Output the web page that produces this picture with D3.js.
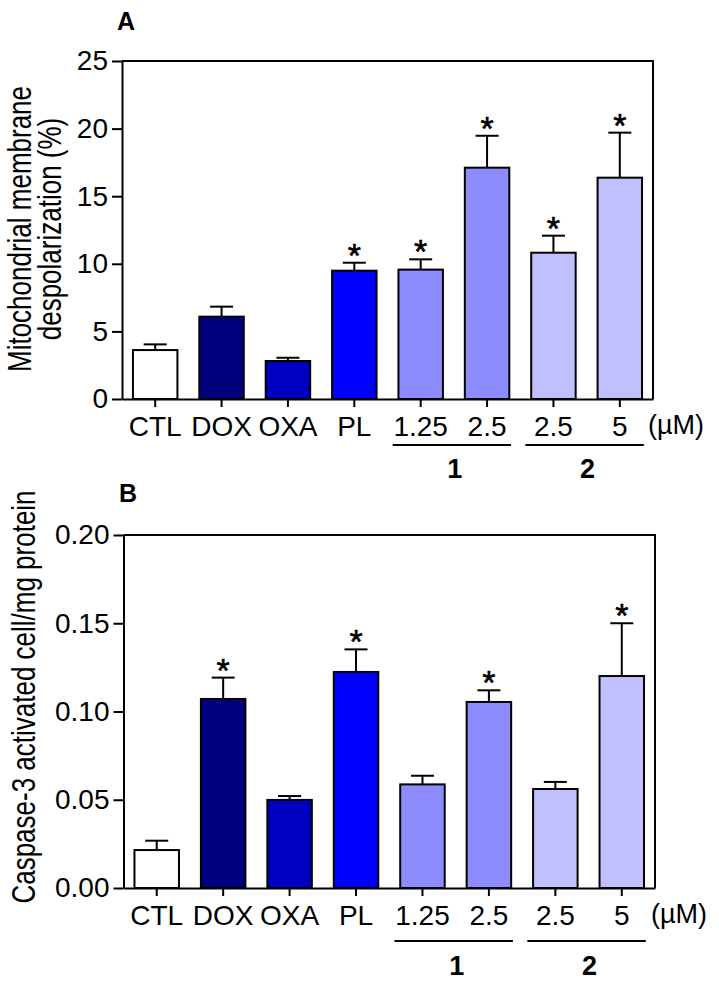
<!DOCTYPE html>
<html lang="en">
<head>
  <meta charset="UTF-8">
  <title>Mitochondrial depolarization and caspase-3 activation</title>
  <script src="https://d3js.org/d3.v7.min.js"></script>
  <style>
    body { margin: 0; background: #fff; }
    svg { font-family: 'Liberation Sans', Arial, sans-serif; }
  </style>
</head>
<body>
<script>
  // categories (ids are unique, labels are what is printed under the ticks)
  const categoryIds = ['CTL', 'DOX', 'OXA', 'PL', 'c1-1.25', 'c1-2.5', 'c2-2.5', 'c2-5'];
  const categoryLabels = ['CTL', 'DOX', 'OXA', 'PL', '1.25', '2.5', '2.5', '5'];

  // compound groups under the concentration labels
  const groupNames = ['1', '2'];
  const groupMembers = [['c1-1.25', 'c1-2.5'], ['c2-2.5', 'c2-5']];

  // panel A - mitochondrial membrane depolarization (%)
  const depolMean = [3.62, 6.09, 2.81, 9.49, 9.57, 17.11, 10.82, 16.37];
  const depolErr  = [0.42, 0.74, 0.24, 0.59, 0.76, 2.36, 1.26, 3.33];
  const depolSig  = [false, false, false, true, true, true, true, true];
  const depolTicks = [0, 5, 10, 15, 20, 25];

  // panel B - caspase-3 activated cell/mg protein
  const caspMean = [0.0215, 0.1071, 0.0499, 0.1224, 0.0587, 0.1054, 0.0561, 0.1201];
  const caspErr  = [0.0053, 0.0121, 0.0022, 0.0128, 0.0049, 0.0066, 0.0040, 0.0299];
  const caspSig  = [false, true, false, true, false, true, false, true];
  const caspTicks = [0, 0.05, 0.10, 0.15, 0.20];

  const barColors = ['#ffffff', '#00007f', '#0000c0', '#0000ff', '#8c8cff', '#8c8cff', '#c0c0ff', '#c0c0ff'];

  const svg = d3.select('body').append('svg')
    .attr('width', 719)
    .attr('height', 987);

  function drawPanel(p) {
    const g = svg.append('g');

    const x = d3.scaleBand()
      .domain(categoryIds)
      .range([p.left, p.right])
      .paddingInner(0.33)
      .paddingOuter(0.165);

    const y = d3.scaleLinear()
      .domain([0, p.max])
      .range([p.bottom, p.top]);

    // frame: top and right sides
    g.append('path')
      .attr('d', `M${p.left},${p.top}H${p.right}V${p.bottom}`)
      .attr('fill', 'none')
      .attr('stroke', '#000')
      .attr('stroke-width', 2);

    // y axis
    const yAxis = g.append('g')
      .attr('transform', `translate(${p.left},0)`)
      .call(d3.axisLeft(y).tickValues(p.ticks).tickSize(10).tickSizeOuter(0)
        .tickPadding(4).tickFormat(p.fmt));
    yAxis.selectAll('path, line').attr('stroke', '#000').attr('stroke-width', 2);
    yAxis.selectAll('text')
      .attr('font-size', 28)
      .attr('font-family', "'Liberation Sans', Arial, sans-serif")
      .attr('fill', '#000');

    const rows = categoryIds.map((id, i) => ({
      id: id, mean: p.mean[i], err: p.err[i], sig: p.sig[i], color: barColors[i]
    }));
    const cx = d => x(d.id) + x.bandwidth() / 2;

    // error bars (upper half only, as in the original)
    const cap = 11.5;
    const eb = g.append('g');
    eb.selectAll('line.stem')
      .data(rows).enter().append('line')
      .attr('class', 'stem')
      .attr('x1', cx).attr('x2', cx)
      .attr('y1', d => y(d.mean))
      .attr('y2', d => y(d.mean + d.err))
      .attr('stroke', '#000').attr('stroke-width', 2);
    eb.selectAll('line.cap')
      .data(rows).enter().append('line')
      .attr('class', 'cap')
      .attr('x1', d => cx(d) - cap)
      .attr('x2', d => cx(d) + cap)
      .attr('y1', d => y(d.mean + d.err))
      .attr('y2', d => y(d.mean + d.err))
      .attr('stroke', '#000').attr('stroke-width', 2);

    // bars
    g.selectAll('rect.bar')
      .data(rows).enter().append('rect')
      .attr('class', 'bar')
      .attr('x', d => x(d.id))
      .attr('width', x.bandwidth())
      .attr('y', d => y(d.mean))
      .attr('height', d => y(0) - y(d.mean))
      .attr('fill', d => d.color)
      .attr('stroke', '#000')
      .attr('stroke-width', 2);

    // significance stars
    g.selectAll('text.star')
      .data(rows.filter(d => d.sig)).enter().append('text')
      .attr('class', 'star')
      .attr('x', cx)
      .attr('y', d => y(d.mean + d.err) + 4)
      .attr('text-anchor', 'middle')
      .attr('font-size', 34)
      .attr('stroke', '#000')
      .attr('stroke-width', 0.6)
      .text('*');

    // x axis
    const xAxis = g.append('g')
      .attr('transform', `translate(0,${p.bottom})`)
      .call(d3.axisBottom(x).tickSize(8).tickSizeOuter(0)
        .tickFormat(id => categoryLabels[categoryIds.indexOf(id)]));
    xAxis.selectAll('path, line').attr('stroke', '#000').attr('stroke-width', 2);
    xAxis.selectAll('text')
      .attr('y', 37).attr('dy', 0)
      .attr('font-size', 28)
      .attr('font-family', "'Liberation Sans', Arial, sans-serif")
      .attr('fill', '#000');

    g.append('text')
      .attr('x', p.umX)
      .attr('y', p.bottom + 35)
      .attr('font-size', 27)
      .text('(\u00b5M)');

    // compound group underlines
    groupMembers.forEach((m, i) => {
      const x0 = x(m[0]) + x.bandwidth() / 2 - 28;
      const x1 = x(m[m.length - 1]) + x.bandwidth() / 2 + 24;
      g.append('line')
        .attr('x1', x0).attr('x2', x1)
        .attr('y1', p.bottom + p.lineDy).attr('y2', p.bottom + p.lineDy)
        .attr('stroke', '#000').attr('stroke-width', 2);
      g.append('text')
        .attr('x', (x0 + x1) / 2 + 3)
        .attr('y', p.bottom + p.groupDy)
        .attr('text-anchor', 'middle')
        .attr('font-size', 27)
        .attr('font-weight', 'bold')
        .text(groupNames[i]);
    });

    // y axis title (glyphs are a bit taller than wide in the original)
    const title = g.append('text')
      .attr('transform', `translate(${p.titleX},${p.titleY}) rotate(-90) scale(1,1.3)`)
      .attr('text-anchor', 'middle')
      .attr('font-size', 26);
    p.title.forEach((line, i) => {
      title.append('tspan')
        .attr('x', 0)
        .attr('dy', i === 0 ? 0 : 23)
        .text(line);
    });

    // panel letter
    g.append('text')
      .attr('x', p.letterX)
      .attr('y', p.letterY)
      .attr('font-size', 25)
      .attr('font-weight', 'bold')
      .text(p.letter);
  }

  drawPanel({
    letter: 'A', letterX: 117, letterY: 30,
    left: 122, right: 653, top: 61, bottom: 399, max: 25,
    mean: depolMean, err: depolErr, sig: depolSig, ticks: depolTicks,
    fmt: d3.format('d'),
    title: ['Mitochondrial membrane', 'despolarization (%)'],
    titleX: 31, titleY: 229,
    umX: 648, lineDy: 46, groupDy: 79
  });

  drawPanel({
    letter: 'B', letterX: 119, letterY: 502,
    left: 123.5, right: 655, top: 535, bottom: 888, max: 0.20,
    mean: caspMean, err: caspErr, sig: caspSig, ticks: caspTicks,
    fmt: d3.format('.2f'),
    title: ['Caspase-3 activated cell/mg protein'],
    titleX: 35, titleY: 697,
    umX: 651, lineDy: 53, groupDy: 87
  });
</script>
</body>
</html>
